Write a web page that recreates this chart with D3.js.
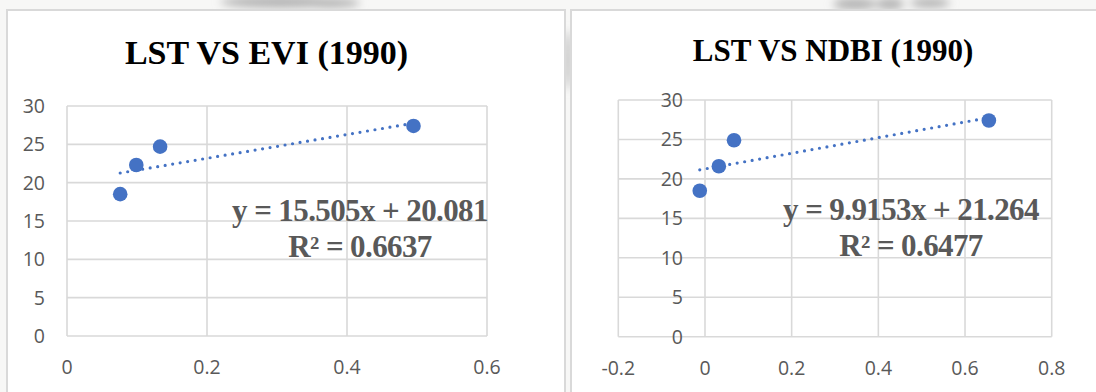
<!DOCTYPE html>
<html>
<head>
<meta charset="utf-8">
<script src="https://cdn.jsdelivr.net/npm/d3@7"></script>
<style>
  body { margin: 0; background: #ffffff; }
  svg { display: block; }
</style>
</head>
<body>
<svg id="chart"></svg>
<script>
// values
const eviValues = [0.076, 0.099, 0.133, 0.495];
const lstEviValues = [18.5, 22.3, 24.7, 27.4];
const ndbiValues = [-0.012, 0.032, 0.067, 0.655];
const lstNdbiValues = [18.5, 21.6, 24.9, 27.4];

const titles = ["LST VS EVI (1990)", "LST VS NDBI (1990)"];
const slopes = [15.505, 9.9153];
const intercepts = [20.081, 21.264];
const rSquared = ["0.6637", "0.6477"];

const yTicks = [0, 5, 10, 15, 20, 25, 30];
const eviTicks = [0, 0.2, 0.4, 0.6];
const ndbiTicks = [-0.2, 0, 0.2, 0.4, 0.6, 0.8];

class ScatterPanel {
    constructor(config) {
        this.config = config;
        this.init();
    }

    init() {
        let self = this;
        const c = self.config;

        self.g = c.svg.append("g");

        self.g.append("rect")
            .attr("x", c.box[0])
            .attr("y", c.box[1])
            .attr("width", c.box[2])
            .attr("height", c.box[3])
            .attr("fill", "#fff")
            .attr("stroke", "#d9d9d9")
            .attr("stroke-width", 2);

        self.x = d3.scaleLinear().domain(d3.extent(c.xTicks)).range(c.xRange);
        self.y = d3.scaleLinear().domain([0, 30]).range(c.yRange);

        self.render();
    }

    render() {
        let self = this;
        const c = self.config;
        const x = self.x, y = self.y;

        // gridlines
        self.g.selectAll(".hgrid")
            .data(yTicks)
            .join("line")
            .attr("x1", c.xRange[0]).attr("x2", c.xRange[1])
            .attr("y1", d => y(d)).attr("y2", d => y(d))
            .attr("stroke", "#d9d9d9")
            .attr("stroke-width", 1.6);

        self.g.selectAll(".vgrid")
            .data(c.xTicks)
            .join("line")
            .attr("x1", d => x(d)).attr("x2", d => x(d))
            .attr("y1", c.yRange[0]).attr("y2", c.yRange[1])
            .attr("stroke", "#d9d9d9")
            .attr("stroke-width", 1.6);

        // y labels sit left of the x=0 axis
        self.g.selectAll(".ylab")
            .data(yTicks)
            .join("text")
            .attr("x", x(0) - 22)
            .attr("y", d => y(d))
            .attr("dy", "0.36em")
            .attr("text-anchor", "end")
            .attr("font-family", "'Open Sans', sans-serif")
            .attr("font-size", 19.5)
            .attr("fill", "#595959")
            .text(d => d);

        self.g.selectAll(".xlab")
            .data(c.xTicks)
            .join("text")
            .attr("x", d => x(d))
            .attr("y", c.yRange[0] + 31)
            .attr("dy", "0.36em")
            .attr("text-anchor", "middle")
            .attr("font-family", "'Open Sans', sans-serif")
            .attr("font-size", 19.5)
            .attr("fill", "#595959")
            .text(d => d);

        // title
        self.g.append("text")
            .attr("x", c.titlePos[0])
            .attr("y", c.titlePos[1])
            .attr("text-anchor", "middle")
            .attr("font-family", "'Liberation Serif', 'Times New Roman', serif")
            .attr("font-weight", "bold")
            .attr("font-size", c.titleSize)
            .attr("fill", "#000")
            .text(c.title);

        // linear trendline, dotted
        const xs = d3.extent(c.xs);
        self.g.append("line")
            .attr("x1", x(xs[0])).attr("y1", y(c.slope * xs[0] + c.intercept))
            .attr("x2", x(xs[1])).attr("y2", y(c.slope * xs[1] + c.intercept))
            .attr("stroke", "#4472c4")
            .attr("stroke-width", 3.2)
            .attr("stroke-linecap", "round")
            .attr("stroke-dasharray", "0 7.6");

        self.g.selectAll(".pt")
            .data(d3.zip(c.xs, c.ys))
            .join("circle")
            .attr("cx", d => x(d[0]))
            .attr("cy", d => y(d[1]))
            .attr("r", 7.3)
            .attr("fill", "#4472c4");

        // equation label
        const eq = self.g.append("text")
            .attr("text-anchor", "middle")
            .attr("font-family", "'Liberation Serif', 'Times New Roman', serif")
            .attr("font-weight", "bold")
            .attr("font-size", 31)
            .attr("letter-spacing", -0.6)
            .attr("fill", "#595959");
        eq.append("tspan")
            .attr("x", c.eqPos[0]).attr("y", c.eqPos[1])
            .text(`y = ${c.slope}x + ${c.intercept}`);
        eq.append("tspan")
            .attr("x", c.eqPos[0]).attr("y", c.eqPos[1] + 36)
            .text(`R² = ${c.r2}`);
    }
}

const svg = d3.select("#chart").attr("width", 1096).attr("height", 392);

// blurred backdrop of the scanned page above the charts
svg.append("rect").attr("width", 1096).attr("height", 392).attr("fill", "#f7f7f6");
const defs = svg.append("defs");
defs.append("filter").attr("id", "blur")
    .append("feGaussianBlur").attr("stdDeviation", 4);
const smudges = [[280, 2, 60, 6], [330, 3, 30, 5], [855, 4, 22, 6], [890, 4, 14, 6], [930, 3, 20, 5], [568, 60, 3, 30]];
svg.append("g").attr("filter", "url(#blur)")
    .selectAll("ellipse")
    .data(smudges)
    .join("ellipse")
    .attr("cx", d => d[0]).attr("cy", d => d[1])
    .attr("rx", d => d[2]).attr("ry", d => d[3])
    .attr("fill", "#b4b4b4");

new ScatterPanel({
    svg: svg,
    box: [7, 10, 558, 400],
    xTicks: eviTicks,
    xRange: [67, 487],
    yRange: [336, 106],
    xs: eviValues,
    ys: lstEviValues,
    title: titles[0],
    titleSize: 34,
    titlePos: [266.5, 64],
    slope: slopes[0],
    intercept: intercepts[0],
    r2: rSquared[0],
    eqPos: [360, 221]
});

new ScatterPanel({
    svg: svg,
    box: [571, 10, 540, 400],
    xTicks: ndbiTicks,
    xRange: [618.3, 1051.7],
    yRange: [336.7, 100],
    xs: ndbiValues,
    ys: lstNdbiValues,
    title: titles[1],
    titleSize: 31,
    titlePos: [833, 61],
    slope: slopes[1],
    intercept: intercepts[1],
    r2: rSquared[1],
    eqPos: [911, 220]
});
</script>
</body>
</html>
